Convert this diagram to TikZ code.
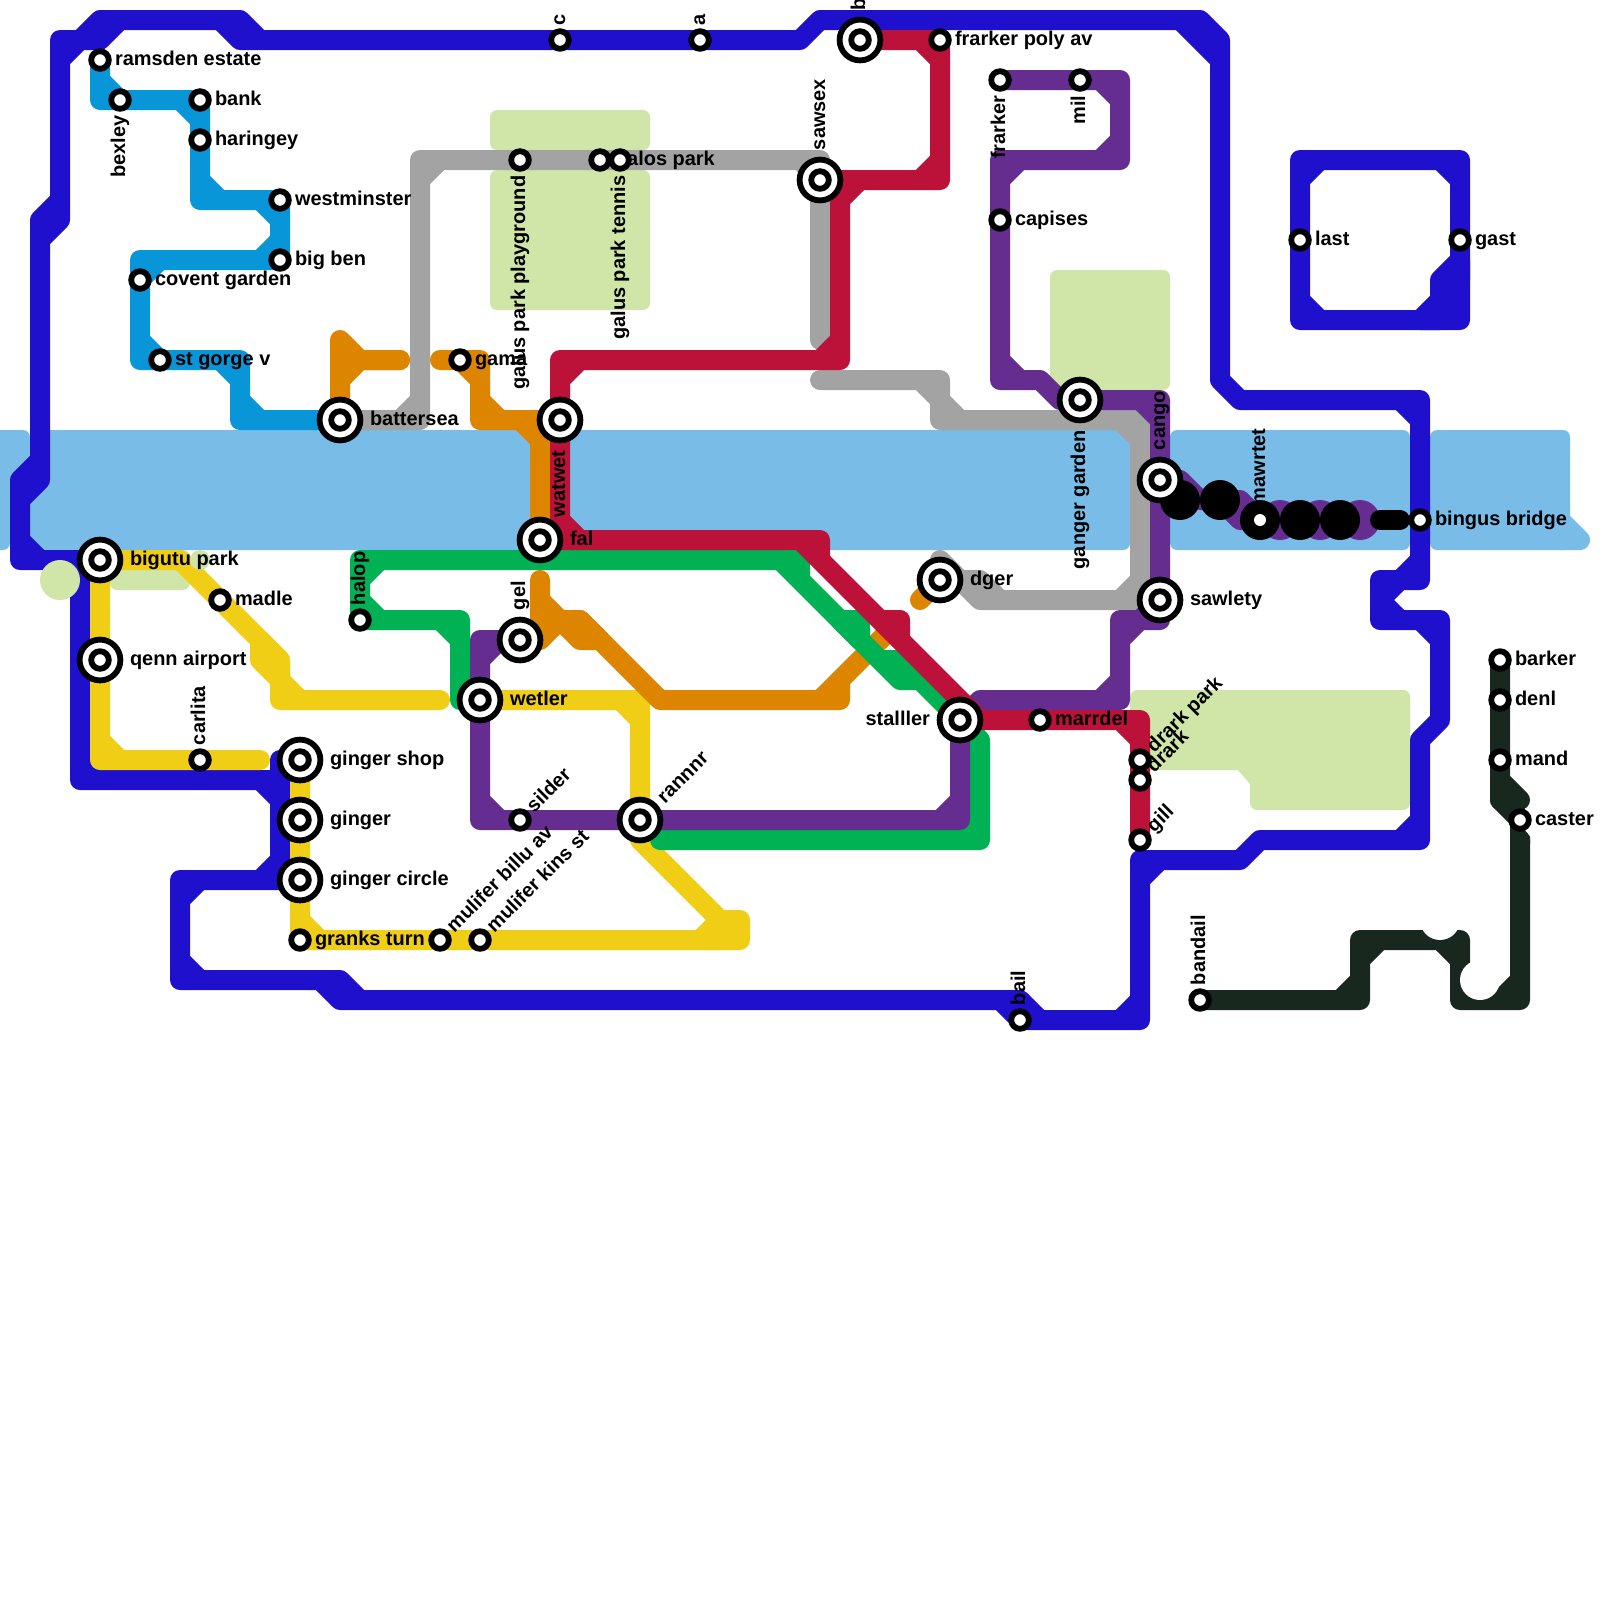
\documentclass[tikz,border=0pt]{standalone}
\usepackage{fontspec}
\setmainfont{Liberation Sans}
\definecolor{cblue}{HTML}{1F10CE}
\definecolor{csky}{HTML}{0996D8}
\definecolor{cgray}{HTML}{A3A3A3}
\definecolor{corange}{HTML}{DE8500}
\definecolor{cred}{HTML}{BC1239}
\definecolor{cpurple}{HTML}{652D90}
\definecolor{cgreen}{HTML}{00B254}
\definecolor{cyellow}{HTML}{F0CE15}
\definecolor{cdark}{HTML}{18281E}
\definecolor{cwater}{HTML}{79BCE8}
\definecolor{cpark}{HTML}{D0E5A8}
\newcommand\lblfont{\fontsize{14.2}{14.2}\selectfont\bfseries}
\tikzset{
 ml/.style={line width=.5cm,line join=round,line cap=round},
 lab/.style={font=\lblfont,inner sep=0pt,outer sep=0pt,text=black},
 parkbox/.style={fill=cpark,rounded corners=.175cm},
 waterbox/.style={fill=cwater,rounded corners=.175cm},
 stS/.style={circle,draw=black,fill=white,line width=.145cm,minimum size=.44cm,inner sep=0pt},
 stB/.style={circle,draw=black,fill=white,line width=.145cm,minimum size=1.02cm,inner sep=0pt},
}
\newcommand\Ln[2]{%
 \gdef\pacc{}\gdef\cacc{}%
 \foreach \x/\y [count=\i] in {#2}{%
  \ifnum\i=1 \xdef\pacc{(\x,\y)}\else\xdef\pacc{\pacc -- (\x,\y)}\fi
  \ifnum\i>2
   \pgfmathtruncatemacro\ux{\px-\ppx}\pgfmathtruncatemacro\uy{\py-\ppy}%
   \pgfmathtruncatemacro\vx{\x-\px}\pgfmathtruncatemacro\vy{\y-\py}%
   \pgfmathtruncatemacro\tst{abs(\ux*\uy)+abs(\vx*\vy)+abs(\ux*\vx+\uy*\vy)}%
   \ifnum\tst=0
    \pgfmathtruncatemacro\ax{\px-sign(\ux)}\pgfmathtruncatemacro\ay{\py-sign(\uy)}%
    \pgfmathtruncatemacro\bx{\px+sign(\vx)}\pgfmathtruncatemacro\by{\py+sign(\vy)}%
    \xdef\cacc{\cacc (\ax,\ay) -- (\bx,\by)}%
   \fi
  \fi
  \ifnum\i>1 \xdef\ppx{\px}\xdef\ppy{\py}\fi
  \xdef\px{\x}\xdef\py{\y}%
 }%
 \edef\tmpdraw{\noexpand\draw[ml,#1] \pacc\space\cacc;}\tmpdraw
}
\newcommand\sS[3]{\node[stS] (#1) at (#2,#3) {};}
\newcommand\sB[3]{\node[stB] (#1) at (#2,#3) {};\node[stS] (#1i) at (#2,#3) {};}
% labels: name, x, y, text
\newcommand\tR[4]{\node[lab,anchor=base west] (#1t) at (#2+.75,#3+.26) {#4};}
\newcommand\tRb[4]{\node[lab,anchor=base west] (#1t) at (#2+1.5,#3+.26) {#4};}
\newcommand\tL[4]{\node[lab,anchor=base east] (#1t) at (#2-1.5,#3+.26) {#4};}
\newcommand\tU[4]{\node[lab,anchor=base west,rotate=90] (#1t) at (#2+.25,#3-.75) {#4};}
\newcommand\tUb[4]{\node[lab,anchor=base west,rotate=90] (#1t) at (#2+.25,#3-1.5) {#4};}
\newcommand\tD[4]{\node[lab,anchor=base east,rotate=90] (#1t) at (#2+.25,#3+.78) {#4};}
\newcommand\tDb[4]{\node[lab,anchor=base east,rotate=90] (#1t) at (#2+.25,#3+1.53) {#4};}
\newcommand\tA[4]{\node[lab,anchor=base west,rotate=45] (#1t) at (#2+.72,#3-.33) {#4};}
\newcommand\tAb[4]{\node[lab,anchor=base west,rotate=45] (#1t) at (#2+1.25,#3-.8) {#4};}
\begin{document}
\begin{tikzpicture}[x=.5cm,y=-.5cm]
\path[clip] (0,0) rectangle (80,80);
\fill[white] (0,0) rectangle (80,80);
% parks
\path[parkbox] (24.5,5.5) rectangle (32.5,7.5);
\path[parkbox] (24.5,8.5) rectangle (32.5,15.5);
\path[parkbox] (52.5,13.5) rectangle (58.5,19.5);
\path[parkbox] (5.5,27.5) rectangle (9.5,29.5);
\path[parkbox] (56.5,34.5) rectangle (70.5,38.5);
\path[parkbox] (62.5,34.5) rectangle (70.5,40.5);
\fill[cpark] (61.8,38.4) -- (62.6,38.4) -- (62.6,39.2) -- (62.5,39.2) -- cycle;
% water
\path[waterbox] (-1,21.5) rectangle (1.5,25);
\path[waterbox] (-1,21.5) rectangle (.5,27.5);
\path[waterbox] (1.5,21.5) rectangle (56.5,27.5);
\path[waterbox] (58.5,21.5) rectangle (70.5,27.5);
\path[waterbox] (71.5,21.5) rectangle (78.5,27.5);
\draw[ml,cwater] (78,26) -- (79,27) -- (78,27);
% blue
\Ln{cblue}{5/28,1/28,1/24,2/24,2/11,3/11,3/2,5/2,5/1,12/1,12/2,40/2,41/1,60/1,60/2,61/2,61/19,62/20,71/20,71/29,69/29,69/31,72/31,72/36,71/37,71/42,63/42,62/43,57/43,57/51,51/51,51/50,17/50,17/49,9/49,9/44,14/44,14/39,4/39,4/28,5/28}
\Ln{cblue}{14/44,15/44}
\Ln{cblue}{14/39,14/38,15/38}
\Ln{cblue}{65/8,73/8,73/16,65/16,65/8,73/8}
\Ln{cblue}{73/13,73/14,72/14,72/16,71/16}
% sky
\Ln{csky}{5/3,5/5,10/5,10/10,14/10,14/13,7/13,7/18,12/18,12/21,17/21}
% yellow
\Ln{cyellow}{5/28,9/28,13/32,14/33,14/35,22/35}
\Ln{cyellow}{13/32,13/33,14/33,14/34}
\Ln{cyellow}{5/28,5/38,13/38}
\Ln{cyellow}{15/38,15/47,37/47,37/46,36/46,32/42,32/41}
\Ln{cyellow}{36/46,36/47,35/47}
\Ln{cyellow}{24/35,32/35,32/41}
% gray
\Ln{cgray}{17/21,21/21,21/8,41/8,41/17}
\Ln{cgray}{41/19,47/19,47/21,57/21,57/30,49/30,49/29,47/29,47/28}
% orange
\Ln{corange}{17/17,17/18,20/18}
\Ln{corange}{20/18,17/18,17/21}
\Ln{corange}{22/18,24/18,24/21,27/21,27/27}
\Ln{corange}{27/29,27/31,29/31,33/35,42/35,42/34,45/31}
\Ln{corange}{26/32,27/32,28/31,29/31,29/32,30/32}
\Ln{corange}{46/30,47/29}
% green
\Ln{cgreen}{24/35,23/35,23/31,18/31,18/28,40/28,40/29,44/33,45/33,45/34,46/34,48/36}
\Ln{cgreen}{42/31,43/31,43/32}
\Ln{cgreen}{48/36,49/37,49/42,33/42}
% purple
\Ln{cpurple}{26/32,24/32,24/41,48/41,48/36,49/35,56/35,56/31,58/31,58/20,53/20,52/19,50/19,50/8,56/8,56/4,50/4}
\Ln{cpurple}{58/24,59/24,60/25,62/25,62/26,68/26}
\fill[cpurple] (64,26) circle (1) (66,26) circle (1) (68,26) circle (1);
% red
\Ln{cred}{43/2,47/2,47/9,42/9,42/18,28/18,28/27,41/27,41/28,44/31,45/31,45/32,48/35,48/36,57/36,57/42}
\Ln{cred}{41/9,42/9}
% dark
\Ln{cdark}{75/33,75/40,76/40}
\Ln{cdark}{75/40,76/41}
\Ln{cdark}{76/42,76/50,73/50,73/47,68/47,68/50,60/50}
\fill[cdark] (75.5,41.2) -- (76,41.2) -- (76.5,41.83) -- (76.5,42.2) -- (75.5,42.2) -- cycle;
% circles over the lines
\fill[white] (74,49) circle (1) (72,46) circle (1);
\fill[cpark] (3,29) circle (1) (10,28) circle (.5);
% black
\Ln{black}{69/26,70/26}
\node[lab,anchor=base west,rotate=90] (mawrtett) at (63.25,25.25) {mawrtet};
\fill[black] (59,25) circle (1) (61,25) circle (1) (63,26) circle (1) (65,26) circle (1) (67,26) circle (1);
% labels
\tR{ramsden}{5}{3}{ramsden estate}
\tD{bexley}{6}{5}{bexley}
\tR{bank}{10}{5}{bank}
\tR{haringey}{10}{7}{haringey}
\tR{westminster}{14}{10}{westminster}
\tR{bigben}{14}{13}{big ben}
\tR{covent}{7}{14}{covent garden}
\tR{stgorge}{8}{18}{st gorge v}
\tRb{battersea}{17}{21}{battersea}
\tR{gama}{23}{18}{gama}
\tD{playground}{26}{8}{galus park playground}
\tD{tennis}{31}{8}{galus park tennis}
\tR{galos}{30}{8}{galos park}
\tU{c}{28}{2}{c}
\tU{a}{35}{2}{a}
\tUb{b}{43}{2}{b}
\tR{frarkerpoly}{47}{2}{frarker poly av}
\tUb{sawsex}{41}{9}{sawsex}
\tD{frarker}{50}{4}{frarker}
\tD{mil}{54}{4}{mil}
\tR{capises}{50}{11}{capises}
\tDb{ganger}{54}{20}{ganger garden}
\tUb{cango}{58}{24}{cango}
\tR{last}{65}{12}{last}
\tR{gast}{73}{12}{gast}
\tR{bingus}{71}{26}{bingus bridge}
\tDb{watwet}{28}{21}{watwet}
\tRb{fal}{27}{27}{fal}
\tRb{bigutu}{5}{28}{bigutu park}
\tR{madle}{11}{30}{madle}
\tRb{qenn}{5}{33}{qenn airport}
\tU{carlita}{10}{38}{carlita}
\tU{halop}{18}{31}{halop}
\tUb{gel}{26}{32}{gel}
\tRb{wetler}{24}{35}{wetler}
\tRb{gshop}{15}{38}{ginger shop}
\tRb{ginger}{15}{41}{ginger}
\tRb{gcircle}{15}{44}{ginger circle}
\tR{granks}{15}{47}{granks turn}
\tA{billu}{22}{47}{mulifer billu av}
\tA{kins}{24}{47}{mulifer kins st}
\tA{silder}{26}{41}{silder}
\tAb{rannnr}{32}{41}{rannnr}
\tRb{dger}{47}{29}{dger}
\tRb{sawlety}{58}{30}{sawlety}
\tL{stalller}{48}{36}{stalller}
\tR{marrdel}{52}{36}{marrdel}
\tA{drarkpark}{57}{38}{drark park}
\tA{drark}{57}{39}{drark}
\tA{gill}{57}{42}{gill}
\tU{bail}{51}{51}{bail}
\tU{bandail}{60}{50}{bandail}
\tR{barker}{75}{33}{barker}
\tR{denl}{75}{35}{denl}
\tR{mand}{75}{38}{mand}
\tR{caster}{76}{41}{caster}
% stations
\sS{ramsdenS}{5}{3}\sS{bexleyS}{6}{5}\sS{bankS}{10}{5}\sS{haringeyS}{10}{7}
\sS{westminsterS}{14}{10}\sS{bigbenS}{14}{13}\sS{coventS}{7}{14}\sS{stgorgeS}{8}{18}
\sB{batterseaS}{17}{21}\sS{gamaS}{23}{18}\sS{playgroundS}{26}{8}\sS{galosS}{30}{8}\sS{tennisS}{31}{8}
\sS{cS}{28}{2}\sS{aS}{35}{2}\sB{bS}{43}{2}\sS{frarkerpolyS}{47}{2}\sB{sawsexS}{41}{9}
\sS{frarkerS}{50}{4}\sS{milS}{54}{4}\sS{capisesS}{50}{11}\sB{gangerS}{54}{20}\sB{cangoS}{58}{24}
\sS{lastS}{65}{12}\sS{gastS}{73}{12}
\node[circle,fill=white,minimum size=.3cm,inner sep=0pt] (mawrtetS) at (63,26) {};
\sS{bingusS}{71}{26}\sB{watwetS}{28}{21}\sB{falS}{27}{27}\sB{bigutuS}{5}{28}\sS{madleS}{11}{30}
\sB{qennS}{5}{33}\sS{carlitaS}{10}{38}\sS{halopS}{18}{31}\sB{gelS}{26}{32}\sB{wetlerS}{24}{35}
\sB{gshopS}{15}{38}\sB{gingerS}{15}{41}\sB{gcircleS}{15}{44}\sS{granksS}{15}{47}
\sS{billuS}{22}{47}\sS{kinsS}{24}{47}\sS{silderS}{26}{41}\sB{rannnrS}{32}{41}
\sB{dgerS}{47}{29}\sB{sawletyS}{58}{30}\sB{stalllerS}{48}{36}\sS{marrdelS}{52}{36}
\sS{drarkparkS}{57}{38}\sS{drarkS}{57}{39}\sS{gillS}{57}{42}\sS{bailS}{51}{51}\sS{bandailS}{60}{50}
\sS{barkerS}{75}{33}\sS{denlS}{75}{35}\sS{mandS}{75}{38}\sS{casterS}{76}{41}
\end{tikzpicture}
\end{document}
